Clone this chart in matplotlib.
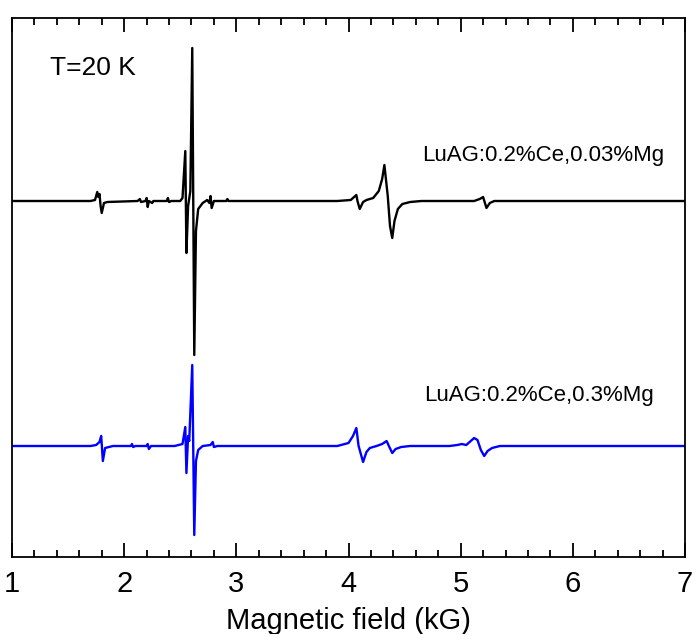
import numpy as np
import matplotlib.pyplot as plt
from matplotlib.ticker import MultipleLocator

plt.rcParams['font.family'] = ['Liberation Sans', 'DejaVu Sans']

# EPR traces: field (kG) and signal (arb. units, baseline = 0)
field_a = [1.0, 1.70, 1.74, 1.76, 1.77, 1.78, 1.79, 1.80, 1.82, 1.85, 2.12, 2.14, 2.15,
           2.19, 2.20, 2.21, 2.22, 2.25, 2.26, 2.38, 2.39, 2.40, 2.42, 2.50, 2.52, 2.545,
           2.555, 2.57, 2.59, 2.607, 2.625, 2.64, 2.66, 2.70, 2.74, 2.76, 2.77, 2.78, 2.80,
           2.91, 2.92, 2.93, 3.9, 4.02, 4.07, 4.08, 4.10, 4.13, 4.16, 4.22, 4.27, 4.30,
           4.32, 4.35, 4.37, 4.39, 4.41, 4.44, 4.48, 4.55, 4.65, 5.12, 5.17, 5.20, 5.23,
           5.26, 5.30, 7.0]
signal_a = [0, 0, 1, 9, 4, 7, -5, -12, -2, -1, 0, 2, -1, 0, 3, -6, 0, -2, 0, 0, 3, -1, 0,
            0, 3, 50, -52, -5, 10, 153, -154, -30, -8, -2, 1, -2, 5, -7, 0, 0, 2, 0, 0, 1,
            6, 0, -8, -1, 1, 3, 10, 22, 36, 5, -25, -37, -20, -8, -3, -1, 0, 0, 2, 4, -7,
            -2, 0, 0]

field_b = [1.0, 1.70, 1.75, 1.78, 1.795, 1.80, 1.81, 1.83, 1.90, 2.06, 2.07, 2.08, 2.10,
           2.20, 2.21, 2.22, 2.24, 2.45, 2.52, 2.545, 2.555, 2.57, 2.58, 2.607, 2.625,
           2.64, 2.66, 2.70, 2.77, 2.79, 2.80, 2.83, 3.9, 4.00, 4.04, 4.07, 4.09, 4.13,
           4.16, 4.19, 4.25, 4.30, 4.34, 4.36, 4.39, 4.42, 4.47, 4.55, 4.90, 4.97, 5.01,
           5.05, 5.08, 5.12, 5.15, 5.18, 5.21, 5.24, 5.28, 5.35, 7.0]
signal_b = [0, 0, 1, 4, 10, 2, -15, -2, 0, 0, 2, -1, 0, 0, 2, -3, 0, 0, 2, 19, -27, 10, 5,
            81, -89, -15, -4, 0, 1, 4, -1, 0, 0, 3, 10, 18, 0, -16, -6, -2, 0, 2, 5, 0,
            -7, -3, -1, 0, 0, 1, 2, 1, 4, 8, 6, -4, -10, -5, -2, 0, 0]

offset_a = 0
offset_b = -245

fig = plt.figure(figsize=(6.96, 6.34), dpi=100)
ax = fig.add_axes([12/696, 1-557/634, 673/696, 539/634])

ax.plot(field_a, np.array(signal_a) + offset_a, color='black', lw=1.7)
ax.plot(field_b, np.array(signal_b) + offset_b, color='#0000ff', lw=1.7)

ax.set_xlim(1, 7)
ax.set_ylim(-356, 183)
ax.xaxis.set_major_locator(MultipleLocator(1))
ax.xaxis.set_minor_locator(MultipleLocator(0.2))
ax.tick_params(axis='x', which='both', direction='in', top=True, bottom=True,
               labelsize=21, width=1.3, pad=9)
ax.tick_params(axis='x', which='major', length=10)
ax.tick_params(axis='x', which='minor', length=5)
ax.set_yticks([])
for s in ax.spines.values():
    s.set_linewidth(1.3)

ax.set_xlabel('Magnetic field (kG)', fontsize=21, labelpad=7)

ax.text(50/696, 1-68/634, 'T=20 K', transform=fig.transFigure, fontsize=19,
        va='center', ha='left')
ax.text(422/696, 1-155/634, 'LuAG:0.2%Ce,0.03%Mg', transform=fig.transFigure,
        fontsize=16, va='center', ha='left')
ax.text(424/696, 1-396/634, 'LuAG:0.2%Ce,0.3%Mg', transform=fig.transFigure,
        fontsize=16, va='center', ha='left')

plt.savefig('out.png', dpi=100)
